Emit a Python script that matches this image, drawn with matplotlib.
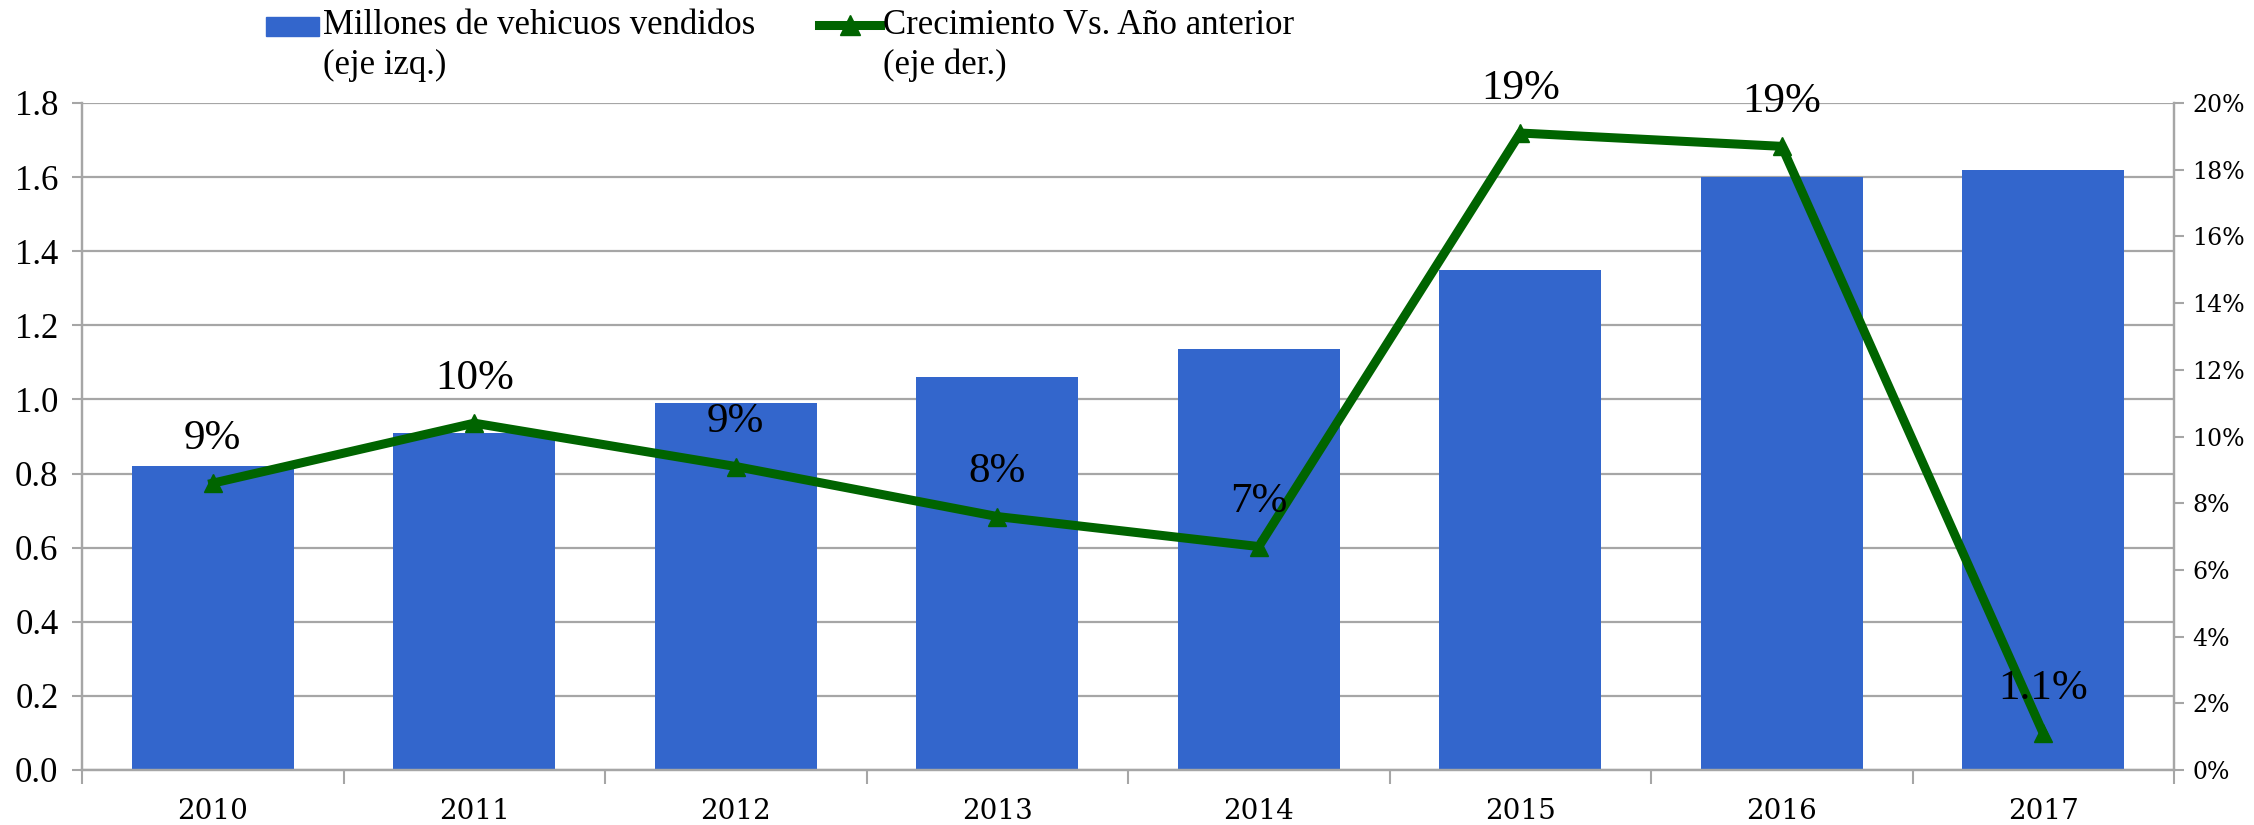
import matplotlib
matplotlib.use("Agg")
import matplotlib.pyplot as plt
import numpy as np
from matplotlib.lines import Line2D
from matplotlib.patches import Rectangle
from matplotlib.ticker import FuncFormatter, MultipleLocator, FixedLocator

# data
years = ["2010", "2011", "2012", "2013", "2014", "2015", "2016", "2017"]
ventas = [0.82, 0.91, 0.99, 1.06, 1.135, 1.35, 1.60, 1.62]          # millones (eje izq.)
crecimiento = [8.6, 10.4, 9.1, 7.6, 6.7, 19.1, 18.7, 1.1]            # % (eje der.)
etiquetas = ["9%", "10%", "9%", "8%", "7%", "19%", "19%", "1.1%"]

BLUE = "#3366cc"
GREEN = "#006400"
GRID = "#a6a6a6"
SERIF = "Liberation Serif"
GEORGIA = "DejaVu Serif"

W, H = 2254, 825
fig = plt.figure(figsize=(W / 100, H / 100), dpi=100)
ax = fig.add_axes([82 / W, 1 - 770 / H, (2174 - 82) / W, (770 - 103) / H])
ax2 = ax.twinx()

x = np.arange(len(years))
ax.bar(x, ventas, width=0.62, color=BLUE, zorder=2)
ax.set_xlim(-0.5, len(years) - 0.5)
ax.set_ylim(0, 1.8)
ax.yaxis.set_major_locator(MultipleLocator(0.2))
ax.yaxis.set_major_formatter(FuncFormatter(lambda v, p: f"{v:.1f}"))
ax.grid(axis="y", color=GRID, linewidth=1.6, zorder=0)
ax.set_axisbelow(True)

# year labels between boundary ticks
ax.xaxis.set_major_locator(FixedLocator(x))
ax.set_xticklabels(years, fontfamily=GEORGIA, fontsize=20)
ax.xaxis.set_minor_locator(FixedLocator(np.arange(-0.5, len(years), 1.0)))
ax.tick_params(axis="x", which="major", length=0, pad=20)
ax.tick_params(axis="x", which="minor", length=10, color=GRID, width=1.5, direction="out")
ax.tick_params(axis="y", length=7, color=GRID, width=1.5, labelsize=25, pad=10)
for lab in ax.get_yticklabels():
    lab.set_fontfamily(SERIF)

ax.spines["top"].set_visible(False)
ax2.spines["top"].set_visible(False)
for sp in ["left", "bottom", "right"]:
    for a in (ax, ax2):
        a.spines[sp].set_color(GRID)
        a.spines[sp].set_linewidth(1.6)

# growth line on the right axis
ax2.plot(x, crecimiento, color=GREEN, linewidth=6.5, marker="^", markersize=13,
         zorder=3)
ax2.set_ylim(0, 20)
ax2.yaxis.set_major_locator(MultipleLocator(2))
ax2.yaxis.set_major_formatter(FuncFormatter(lambda v, p: f"{v:.0f}%"))
ax2.tick_params(axis="y", length=7, color=GRID, width=1.5, labelsize=17, pad=6)
for lab in ax2.get_yticklabels():
    lab.set_fontfamily(GEORGIA)

for xi, yi, t in zip(x, crecimiento, etiquetas):
    ax2.annotate(t, (xi, yi), xytext=(0, 32), textcoords="offset points",
                 ha="center", va="center", fontsize=31, fontfamily=SERIF,
                 zorder=4, annotation_clip=False)

# legend drawn by hand so the keys sit on the first text line
def fx(px):
    return px / W

def fy(py):
    return 1 - py / H

fig.patches.append(Rectangle((fx(266), fy(36)), fx(319) - fx(266), fy(17) - fy(36),
                             transform=fig.transFigure, color=BLUE))
fig.lines.append(Line2D([fx(819), fx(880)], [fy(25), fy(25)], transform=fig.transFigure,
                        color=GREEN, linewidth=6.5))
fig.lines.append(Line2D([fx(850)], [fy(25)], transform=fig.transFigure,
                        color=GREEN, marker="^", markersize=15, linestyle="none"))
leg_items = [(323, "Millones de vehicuos vendidos", "(eje izq.)"),
             (883, "Crecimiento Vs. Año anterior", "(eje der.)")]
for px, l1, l2 in leg_items:
    fig.text(fx(px), fy(25), l1, fontfamily=SERIF, fontsize=25, va="center", ha="left")
    fig.text(fx(px), fy(65), l2, fontfamily=SERIF, fontsize=25, va="center", ha="left")

plt.savefig("out.png", dpi=100)
